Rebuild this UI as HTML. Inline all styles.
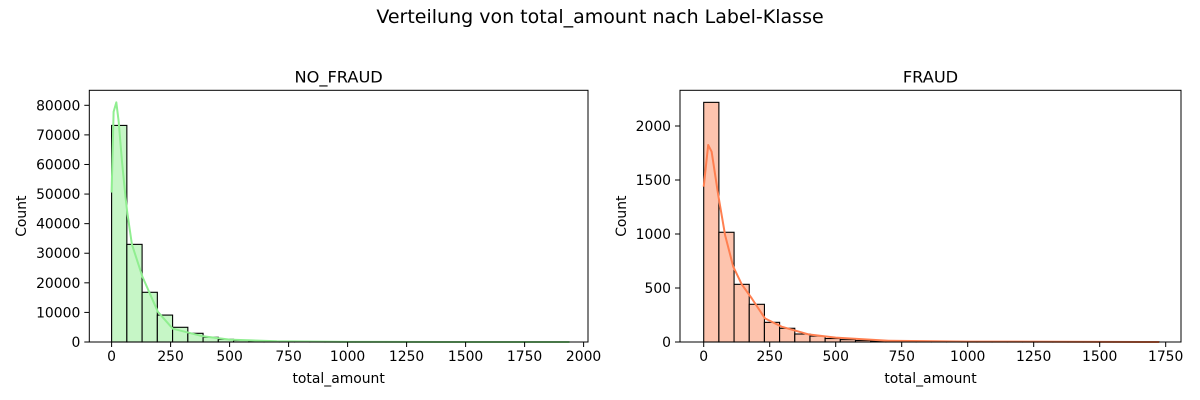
<!DOCTYPE html>
<html><head><meta charset="utf-8">
<style>
html,body{margin:0;padding:0;background:#fff;}
svg{display:block;font-family:"DejaVu Sans","Liberation Sans",sans-serif;}
</style></head>
<body>
<svg id="chart" width="1200" height="400" viewBox="0 0 1200 400">
<text x="600" y="23" text-anchor="middle" font-size="19">Verteilung von total_amount nach Label-Klasse</text>
</svg>
<script>
// NO_FRAUD data
const nfCounts = [73200,33000,16800,9100,4970,2940,1590,900,520,320,200,130,85,55,38,26,18,13,10,8,6,5,4,3,3,2,2,2,1,1];
const nfKdeX = [0,8.5,20,30,44,58,66,86,131,196,259,383,500,700,1000,1400,1940];
const nfKdeY = [50500,77800,81000,74500,61000,49700,44000,33000,22000,10200,4500,2000,800,250,50,10,0];
const nfXTicks = [0,250,500,750,1000,1250,1500,1750,2000];
const nfYTicks = [0,10000,20000,30000,40000,50000,60000,70000,80000];
// FRAUD data
const frCounts = [2219,1016,534,349,182,127,74,55,32,22,14,10,7,5,4,3,3,2,2,2,1,1,1,1,1,1,1,1,1,1];
const frKdeX = [0,17,30,55,81,112,144,182,232,295,396,500,700,1000,1725];
const frKdeY = [1438,1824,1762,1361,990,697,534,404,219,142,71,40,12,4,0];
const frXTicks = [0,250,500,750,1000,1250,1500,1750];
const frYTicks = [0,500,1000,1500,2000];

const NS = "http://www.w3.org/2000/svg";
const svg = document.getElementById('chart');
function mk(tag, attrs, parent){
  const e = document.createElementNS(NS, tag);
  for (const k in attrs) e.setAttribute(k, attrs[k]);
  (parent||svg).appendChild(e);
  return e;
}
function panel(cfg){
  const {left,right,top,bottom,xmin,xmax,ymax,binW,counts,kx,ky,xt,yt,fill,line,title,key} = cfg;
  const g = mk('g',{});
  
  
  const X = v => left + (v - xmin) / (xmax - xmin) * (right - left);
  const Y = v => bottom - v / ymax * (bottom - top);
  counts.forEach((c,i)=>{
    const r = mk('rect',{x:X(i*binW),y:Y(c),width:X((i+1)*binW)-X(i*binW),height:bottom-Y(c),fill:fill,stroke:'#000','stroke-width':1.1},g);
    
    
  });
  const pts = kx.map((v,i)=>X(v).toFixed(2)+','+Y(ky[i]).toFixed(2)).join(' ');
  const pl = mk('polyline',{points:pts,fill:'none',stroke:line,'stroke-width':2,'stroke-linejoin':'round'},g);
  
  
  const fr = mk('rect',{x:left,y:top,width:right-left,height:bottom-top,fill:'none',stroke:'#000','stroke-width':1},g);
  
  
  xt.forEach(v=>{
    mk('line',{x1:X(v),x2:X(v),y1:bottom,y2:bottom+5,stroke:'#000'},g);
    const t = mk('text',{x:X(v),y:bottom+19,'text-anchor':'middle','font-size':13.9},g);
    t.textContent = v;
    
    
  });
  yt.forEach(v=>{
    mk('line',{x1:left-5,x2:left,y1:Y(v),y2:Y(v),stroke:'#000'},g);
    const t = mk('text',{x:left-9,y:Y(v)+5,'text-anchor':'end','font-size':13.9},g);
    t.textContent = v;
    
    
  });
  const tt = mk('text',{x:(left+right)/2,y:top-8,'text-anchor':'middle','font-size':16.2},g);
  tt.textContent = title;
  
  
  const xl = mk('text',{x:(left+right)/2,y:bottom+41,'text-anchor':'middle','font-size':13.9},g);
  xl.textContent = 'total_amount';
  
  
  const cx = cfg.ylabX, cy = (top+bottom)/2;
  const yl = mk('text',{x:cx,y:cy,'text-anchor':'middle','font-size':13.9,transform:'rotate(-90 '+cx+' '+cy+')'},g);
  yl.textContent = 'Count';
  
  
}
panel({left:89.3,right:588,top:90.3,bottom:342,xmin:-94.5,xmax:2018.6,ymax:85070,binW:64.6,counts:nfCounts,kx:nfKdeX,ky:nfKdeY,xt:nfXTicks,yt:nfYTicks,fill:'#c6f6c6',line:'#90ee90',title:'NO_FRAUD',key:'no-fraud',ylabX:26});
panel({left:680,right:1181,top:90.3,bottom:342,xmin:-89.8,xmax:1808,ymax:2330.6,binW:57.5,counts:frCounts,kx:frKdeX,ky:frKdeY,xt:frXTicks,yt:frYTicks,fill:'#fdc4ae',line:'#ff7f50',title:'FRAUD',key:'fraud',ylabX:626});
</script>
</body></html>
